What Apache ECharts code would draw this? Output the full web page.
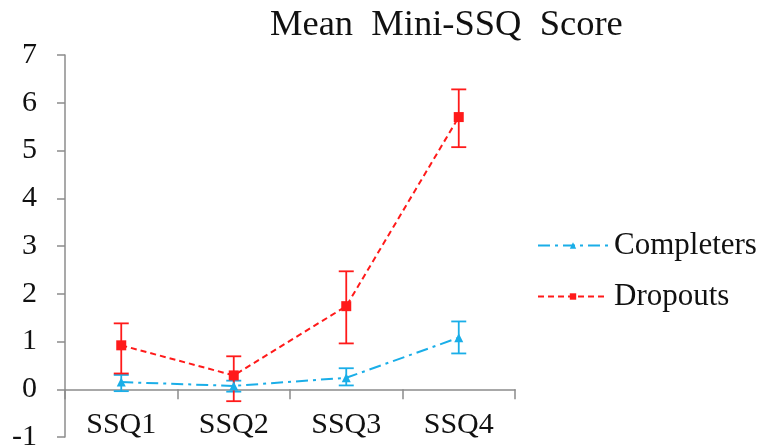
<!DOCTYPE html>
<html>
<head>
<meta charset="utf-8">
<script src="https://cdn.jsdelivr.net/npm/echarts@6/dist/echarts.min.js"></script>
<style>html,body{margin:0;padding:0;background:#fff}#c{width:764px;height:448px}</style>
</head>
<body>
<div id="c"></div>
<script>
var categories = ['SSQ1', 'SSQ2', 'SSQ3', 'SSQ4'];
var completersMean = [0.15, 0.07, 0.24, 1.08];
var completersLow = [-0.04, -0.05, 0.08, 0.75];
var completersHigh = [0.30, 0.18, 0.44, 1.42];
var dropoutsMean = [0.92, 0.29, 1.74, 5.70];
var dropoutsLow = [0.33, -0.25, 0.96, 5.07];
var dropoutsHigh = [1.38, 0.69, 2.47, 6.28];
var yTicks = { min: -1, max: 7, interval: 1 };

var FONT = '"Liberation Serif", "Times New Roman", serif';
var BLUE = '#1aaee8';
var RED = '#ff1a1a';

function errData(low, high) {
  return categories.map(function (c, i) { return [i, low[i], high[i]]; });
}
function errSeries(name, low, high, color) {
  return {
    type: 'custom',
    name: name + ' error',
    data: errData(low, high),
    z: 3,
    silent: true,
    renderItem: function (params, api) {
      var x = api.value(0);
      var lo = api.coord([x, api.value(1)]);
      var hi = api.coord([x, api.value(2)]);
      var hw = 7.5;
      var st = { stroke: color, lineWidth: 1.8 };
      return {
        type: 'group',
        children: [
          { type: 'line', shape: { x1: lo[0], y1: lo[1], x2: hi[0], y2: hi[1] }, style: st },
          { type: 'line', shape: { x1: lo[0] - hw, y1: lo[1], x2: lo[0] + hw, y2: lo[1] }, style: st },
          { type: 'line', shape: { x1: hi[0] - hw, y1: hi[1], x2: hi[0] + hw, y2: hi[1] }, style: st }
        ]
      };
    }
  };
}

var chart = echarts.init(document.getElementById('c'));
chart.setOption({
  animation: false,
  backgroundColor: '#fff',
  title: {
    text: 'Mean  Mini-SSQ  Score',
    left: 265, top: 2,
    textStyle: { fontFamily: FONT, fontSize: 36.5, fontWeight: 'normal', color: '#111' }
  },
  legend: {
    data: ['Completers', 'Dropouts'],
    orient: 'vertical',
    left: 532, top: 225,
    itemWidth: 70, itemHeight: 8, itemGap: 20,
    textStyle: { fontFamily: FONT, fontSize: 31, color: '#111', padding: [0, 0, 0, 1] }
  },
  grid: { left: 65, right: 249, top: 55, bottom: 11, containLabel: false, outerBoundsMode: 'none' },
  xAxis: {
    type: 'category',
    data: categories,
    boundaryGap: true,
    axisLine: { onZero: true, lineStyle: { color: '#8c8c8c', width: 1.5 } },
    axisTick: { show: true, length: 10, inside: false, lineStyle: { color: '#8c8c8c', width: 1.5 } },
    axisLabel: { margin: -27, fontFamily: FONT, fontSize: 30, color: '#111' },
    splitLine: { show: false }
  },
  yAxis: {
    type: 'value',
    min: yTicks.min, max: yTicks.max, interval: yTicks.interval,
    axisLine: { show: true, lineStyle: { color: '#8c8c8c', width: 1.5 } },
    axisTick: { show: true, length: 8, lineStyle: { color: '#8c8c8c', width: 1.5 } },
    axisLabel: { margin: 28, fontFamily: FONT, fontSize: 30, color: '#111' },
    splitLine: { show: false }
  },
  series: [
    errSeries('Completers', completersLow, completersHigh, BLUE),
    errSeries('Dropouts', dropoutsLow, dropoutsHigh, RED),
    {
      name: 'Completers', type: 'line', data: completersMean, z: 4,
      symbol: 'triangle', symbolSize: 9,
      itemStyle: { color: BLUE },
      lineStyle: { color: BLUE, width: 2, type: [12, 5, 3, 5] }
    },
    {
      name: 'Dropouts', type: 'line', data: dropoutsMean, z: 4,
      symbol: 'rect', symbolSize: 10,
      itemStyle: { color: RED },
      lineStyle: { color: RED, width: 2, type: [6, 4] }
    }
  ]
});
</script>
</body>
</html>
